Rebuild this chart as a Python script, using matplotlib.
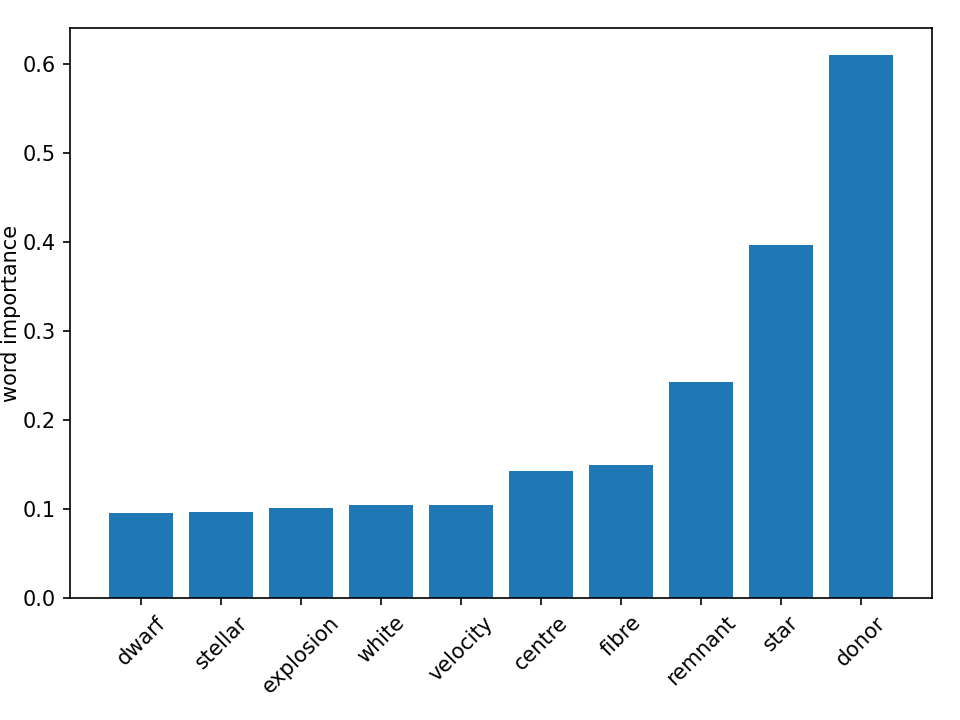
import matplotlib
matplotlib.use("Agg")
import matplotlib.pyplot as plt

words = ["dwarf", "stellar", "explosion", "white", "velocity", "centre", "fibre", "remnant", "star", "donor"]
importance = [0.0955, 0.0966, 0.1011, 0.1040, 0.1050, 0.1425, 0.1490, 0.2430, 0.3970, 0.6097]

fig = plt.figure(figsize=(6.4, 4.8), dpi=150)
ax = fig.add_axes([70/960, 1 - 598/720, (932 - 70)/960, (598 - 28)/720])
ax.bar(words, importance, color="#1f77b4")
ax.set_ylabel("word importance", labelpad=0.5)
ax.set_xticks(range(len(words)))
ax.set_xticklabels(words, rotation=45)
fig.savefig("out.png", dpi=150)
